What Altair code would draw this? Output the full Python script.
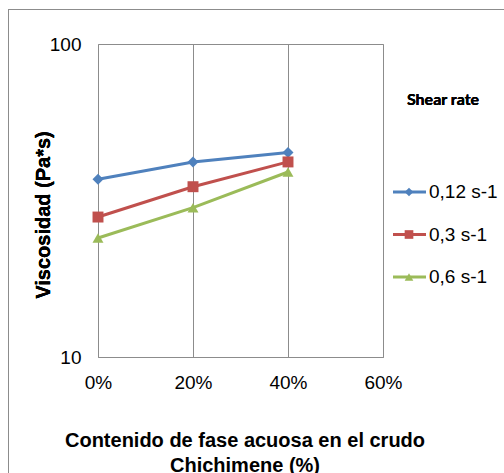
import altair as alt
import pandas as pd

# Water-phase content in the Chichimene crude (fraction) and viscosity per shear rate
contenido = [0.0, 0.2, 0.4]
series = ["0,12 s-1", "0,3 s-1", "0,6 s-1"]
visc_012 = [37, 42, 45]
visc_03 = [28, 35, 42]
visc_06 = [24, 30, 39]

colors = ["#4F81BD", "#C0504D", "#9BBB59"]
shapes = ["diamond", "square", "triangle-up"]

rows = []
for name, vals in zip(series, [visc_012, visc_03, visc_06]):
    for c, v in zip(contenido, vals):
        rows.append({"contenido": c, "viscosidad": v, "serie": name})
df = pd.DataFrame(rows)
legend_df = pd.DataFrame({"serie": series})

W, H = 285, 313
FONT = "Liberation Sans"
FS = 19
TFS = 20

color = alt.Color("serie:N", scale=alt.Scale(domain=series, range=colors), legend=None)
shape = alt.Shape("serie:N", scale=alt.Scale(domain=series, range=shapes), legend=None)

x_enc = alt.X(
    "contenido:Q",
    scale=alt.Scale(domain=[0, 0.6], nice=False),
    axis=alt.Axis(
        values=[0, 0.2, 0.4, 0.6], format=".0%", grid=True, gridColor="#8c8c8c",
        gridWidth=1, domainColor="#8c8c8c", ticks=False, labelPadding=16,
        labelFlush=False, labelFontSize=FS, labelFont=FONT, labelColor="#000",
        title=["Contenido de fase acuosa en el crudo", "Chichimene (%)"],
        titleFont=FONT, titleFontSize=TFS, titleFontWeight="bold", titleColor="#000",
        titleBaseline="top", titleY=73, titleX=W / 2 + 4, titleLineHeight=25,
    ),
)
y_enc = alt.Y(
    "viscosidad:Q",
    scale=alt.Scale(type="log", domain=[10, 100], nice=False),
    axis=alt.Axis(
        values=[10, 100], format="d", grid=False, ticks=False, domain=False,
        labelPadding=17, labelFlush=False, labelFontSize=FS, labelFont=FONT,
        labelColor="#000", title=None,
    ),
)

lines = alt.Chart(df).mark_line(strokeWidth=3).encode(x=x_enc, y=y_enc, color=color)
points = alt.Chart(df).mark_point(filled=True, size=120, opacity=1).encode(
    x="contenido:Q", y="viscosidad:Q", color=color, shape=shape
)
plot = alt.layer(lines, points)

# Vertical axis title
y_title = alt.Chart(legend_df).mark_text(
    text="Viscosidad (Pa*s)", font=FONT, fontSize=TFS, fontWeight="bold",
    color="#000", angle=270, align="center", baseline="middle"
).encode(x=alt.value(-54), y=alt.value(171))

# Legend drawn beside the plot: line segment with marker, then label
leg_y = alt.Y(
    "serie:N",
    scale=alt.Scale(type="point", domain=series, range=[148, 233], padding=0),
    axis=None,
)
leg_line = alt.Chart(legend_df).mark_rule(strokeWidth=3).encode(
    x=alt.value(295), x2=alt.value(328), y=leg_y, color=color
)
leg_pt = alt.Chart(legend_df).mark_point(filled=True, size=75, opacity=1).encode(
    x=alt.value(311), y=leg_y, color=color, shape=shape
)
leg_txt = alt.Chart(legend_df).mark_text(
    align="left", baseline="middle", font=FONT, fontSize=FS, color="#000"
).encode(x=alt.value(331), y=leg_y, text="serie:N")
leg_title = alt.Chart(legend_df).mark_text(
    text="Shear rate", font="Lato", fontSize=16, fontWeight="bold",
    color="#000", align="center", baseline="middle"
).encode(x=alt.value(345), y=alt.value(56))
legend = alt.layer(leg_line, leg_pt, leg_txt, leg_title)

# Chart-area frame
frame = alt.Chart(legend_df).mark_rect(
    filled=False, stroke="#8c8c8c", strokeWidth=1
).encode(x=alt.value(-89.5), x2=alt.value(420), y=alt.value(-34.5), y2=alt.value(440))

chart = alt.layer(frame, plot, y_title, legend).resolve_scale(y="independent").properties(
    width=W, height=H,
    autosize=alt.AutoSizeParams(type="none"),
    padding={"left": 98, "top": 44, "right": 504 - 98 - W, "bottom": 473 - 44 - H},
    background="white",
).configure_view(stroke="#8c8c8c", strokeWidth=1)

chart.save("out.html", embed_options={"renderer": "svg", "actions": False})
